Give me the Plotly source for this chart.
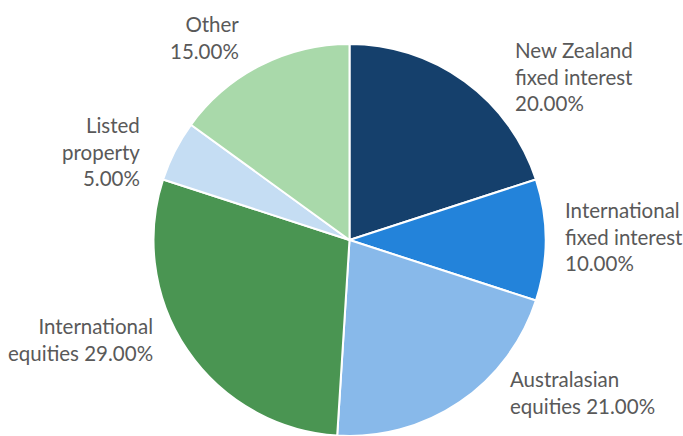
import plotly.graph_objects as go

# ---- data ----
categories = [
    "New Zealand fixed interest",
    "International fixed interest",
    "Australasian equities",
    "International equities",
    "Listed property",
    "Other",
]
values = [20.0, 10.0, 21.0, 29.0, 5.0, 15.0]

# ---- style / layout ----
colors = ["#15406C", "#2383DA", "#88B9EA", "#4A9552", "#C5DDF3", "#A9D9AA"]
label_breaks = [
    ["New Zealand", "fixed interest", "{v}"],
    ["International", "fixed interest", "{v}"],
    ["Australasian", "equities {v}"],
    ["International", "equities {v}"],
    ["Listed", "property", "{v}"],
    ["Other", "{v}"],
]
# label anchor positions in pixels (x, y-center) and alignment
label_pos = [
    (513, 77, "left"),
    (563, 236, "left"),
    (508, 392, "left"),
    (155, 339, "right"),
    (142, 151, "right"),
    (241, 37, "right"),
]

W, H = 683, 436
TOP = 44
CX = 349.5

x0 = 2 * CX / W - 1
fig = go.Figure(
    go.Pie(
        labels=categories,
        values=values,
        sort=False,
        direction="clockwise",
        rotation=0,
        textinfo="none",
        marker=dict(colors=colors, line=dict(color="white", width=2)),
        showlegend=False,
        domain=dict(x=[x0, 1], y=[0, 1]),
    )
)

annotations = []
for lines, v, (px, py, align) in zip(label_breaks, values, label_pos):
    txt = "<br>".join(l.replace("{v}", f"{v:.2f}%") for l in lines)
    annotations.append(
        dict(
            text=txt,
            x=px / W,
            y=1 - (py - TOP) / (H - TOP),
            xref="paper",
            yref="paper",
            xanchor=align,
            yanchor="middle",
            align=align,
            showarrow=False,
            font=dict(family="Lato", size=20.5, color="#595959"),
        )
    )

fig.update_layout(
    width=W,
    height=H,
    margin=dict(l=0, r=0, t=TOP, b=0),
    paper_bgcolor="white",
    plot_bgcolor="white",
    annotations=annotations,
)

fig.write_html("out.html")
